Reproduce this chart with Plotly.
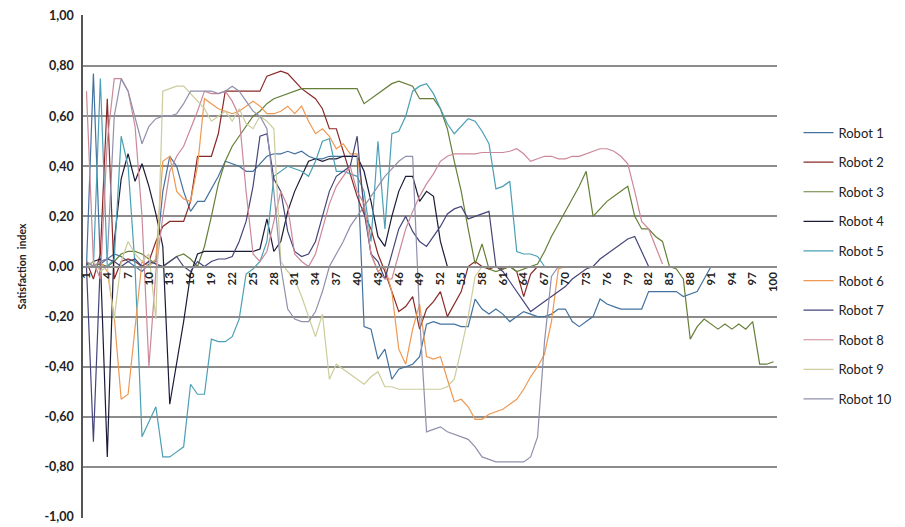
import plotly.graph_objects as go

N = None
x_index = list(range(1, 101))
x_tick_vals = list(range(1, 101, 3))
x_tick_text = [str(v) for v in x_tick_vals]
y_tick_vals = [1.0, 0.8, 0.6, 0.4, 0.2, 0.0, -0.2, -0.4, -0.6, -0.8, -1.0]
y_tick_text = ["1,00", "0,80", "0,60", "0,40", "0,20", "0,00", "-0,20", "-0,40", "-0,60", "-0,80", "-1,00"]

robot1 = [0.00, 0.77, 0.01, 0.03, 0.05, 0.04, 0.02, 0.00, -0.02, 0.01,
          0.02, 0.30, 0.44, 0.40, 0.30, 0.22, 0.26, 0.26, 0.31, 0.36,
          0.42, 0.41, 0.40, 0.38, 0.38, 0.41, 0.44, 0.45, 0.45, 0.46,
          0.45, 0.46, 0.44, 0.43, 0.43, 0.44, 0.44, 0.44, 0.44, 0.44,
          -0.24, -0.25, -0.37, -0.33, -0.45, -0.41, -0.40, -0.39, -0.36, -0.23,
          -0.22, -0.23, -0.23, -0.23, -0.24, -0.24, -0.13, -0.17, -0.19, -0.17,
          -0.19, -0.22, -0.20, -0.18, -0.19, -0.20, -0.20, -0.19, -0.17, -0.17,
          -0.22, -0.24, -0.22, -0.20, -0.13, -0.15, -0.16, -0.17, -0.17, -0.17,
          -0.17, -0.10, -0.10, -0.10, -0.10, -0.10, -0.12, -0.11, -0.10, -0.05,
          0.00, N, N, N, N, N, N, N, N, N]

robot2 = [0.02, -0.05, 0.05, 0.67, -0.05, 0.02, 0.03, 0.02, 0.00, 0.02,
          0.10, 0.16, 0.18, 0.18, 0.18, 0.26, 0.44, 0.44, 0.44, 0.53,
          0.70, 0.70, 0.70, 0.70, 0.70, 0.70, 0.76, 0.77, 0.78, 0.77,
          0.74, 0.71, 0.69, 0.67, 0.63, 0.55, 0.55, 0.46, 0.38, 0.28,
          0.21, 0.15, 0.05, -0.02, -0.10, -0.18, -0.16, -0.12, -0.25, -0.17,
          -0.14, -0.10, -0.20, -0.15, -0.10, 0.00, 0.02, 0.00, -0.01, 0.00,
          -0.01, 0.00, -0.02, -0.12, -0.03, 0.00, N, N, N, N,
          N, N, N, N, N, N, N, N, N, N,
          N, N, N, N, N, N, N, N, N, N,
          N, N, N, N, N, N, N, N, N, N]

robot3 = [0.00, 0.00, 0.01, 0.00, 0.02, 0.05, 0.06, 0.06, 0.05, 0.03,
          0.01, 0.00, 0.02, 0.04, 0.05, 0.03, 0.00, 0.08, 0.20, 0.33,
          0.42, 0.48, 0.52, 0.56, 0.60, 0.62, 0.65, 0.67, 0.68, 0.69,
          0.70, 0.71, 0.71, 0.71, 0.71, 0.71, 0.71, 0.71, 0.71, 0.71,
          0.65, 0.67, 0.69, 0.71, 0.73, 0.74, 0.73, 0.72, 0.67, 0.67,
          0.67, 0.63, 0.55, 0.42, 0.30, 0.15, 0.01, 0.09, -0.01, -0.02,
          -0.01, 0.00, -0.02, -0.01, 0.00, 0.01, 0.06, 0.12, 0.17, 0.22,
          0.27, 0.32, 0.38, 0.20, 0.23, 0.26, 0.28, 0.30, 0.32, 0.20,
          0.15, 0.15, 0.12, 0.10, 0.00, -0.01, -0.05, -0.29, -0.24, -0.21,
          -0.23, -0.25, -0.23, -0.25, -0.23, -0.25, -0.22, -0.39, -0.39, -0.38]

robot4 = [0.00, 0.02, 0.03, -0.76, 0.10, 0.35, 0.45, 0.34, 0.41, 0.32,
          0.21, 0.08, -0.55, -0.38, -0.22, -0.03, 0.05, 0.06, 0.06, 0.06,
          0.06, 0.06, 0.06, 0.06, 0.06, 0.07, 0.19, 0.06, 0.10, 0.22,
          0.30, 0.36, 0.42, 0.43, 0.42, 0.43, 0.43, 0.44, 0.44, 0.44,
          0.38, 0.26, 0.12, 0.08, 0.20, 0.30, 0.36, 0.36, 0.26, 0.30,
          0.28, 0.10, 0.00, 0.00, 0.00, 0.00, 0.00, 0.00, 0.00, 0.00,
          0.00, 0.00, 0.00, 0.00, N, N, N, N, N, N,
          N, N, N, N, N, N, N, N, N, N,
          N, N, N, N, N, N, N, N, N, N,
          N, N, N, N, N, N, N, N, N, N]

robot5 = [0.02, 0.00, 0.75, 0.00, 0.03, 0.52, 0.40, 0.00, -0.68, -0.62,
          -0.56, -0.76, -0.76, -0.74, -0.72, -0.47, -0.51, -0.51, -0.29, -0.30,
          -0.30, -0.28, -0.21, -0.03, -0.01, 0.02, 0.10, 0.36, 0.38, 0.40,
          0.39, 0.38, 0.36, 0.42, 0.50, 0.51, 0.38, 0.38, 0.37, 0.36,
          0.30, 0.10, 0.50, 0.15, 0.53, 0.54, 0.60, 0.70, 0.72, 0.73,
          0.69, 0.63, 0.57, 0.53, 0.56, 0.59, 0.58, 0.54, 0.49, 0.31,
          0.32, 0.34, 0.06, 0.05, 0.05, 0.04, 0.00, N, N, N,
          N, N, N, N, N, N, N, N, N, N,
          N, N, N, N, N, N, N, N, N, N,
          N, N, N, N, N, N, N, N, N, N]

robot6 = [0.02, 0.00, 0.02, -0.02, -0.20, -0.53, -0.51, -0.25, 0.02, 0.00,
          0.03, 0.42, 0.44, 0.30, 0.27, 0.26, 0.40, 0.67, 0.65, 0.63,
          0.62, 0.61, 0.62, 0.64, 0.66, 0.64, 0.61, 0.61, 0.62, 0.64,
          0.61, 0.64, 0.58, 0.53, 0.55, 0.52, 0.47, 0.49, 0.45, 0.45,
          0.24, 0.05, -0.02, 0.00, -0.10, -0.33, -0.39, -0.25, -0.15, -0.36,
          -0.37, -0.36, -0.45, -0.54, -0.53, -0.56, -0.61, -0.61, -0.59, -0.58,
          -0.57, -0.55, -0.53, -0.49, -0.44, -0.40, -0.35, -0.22, -0.01, 0.00,
          N, N, N, N, N, N, N, N, N, N,
          N, N, N, N, N, N, N, N, N, N,
          N, N, N, N, N, N, N, N, N, N]

robot7 = [0.00, -0.70, 0.02, 0.03, 0.02, 0.00, 0.02, 0.03, 0.00, 0.02,
          0.01, 0.00, 0.02, 0.04, 0.00, -0.02, 0.02, 0.00, 0.02, 0.03,
          0.03, 0.04, 0.10, 0.18, 0.32, 0.52, 0.53, 0.35, 0.30, 0.14,
          0.06, 0.04, 0.05, 0.10, 0.20, 0.30, 0.36, 0.38, 0.40, 0.52,
          0.22, 0.05, 0.02, -0.05, 0.05, 0.15, 0.20, 0.14, 0.10, 0.08,
          0.12, 0.16, 0.21, 0.23, 0.24, 0.19, 0.20, 0.21, 0.22, 0.00,
          -0.02, -0.06, -0.10, -0.14, -0.18, -0.16, -0.14, -0.12, -0.10, -0.08,
          -0.05, -0.03, -0.01, 0.00, 0.03, 0.05, 0.07, 0.09, 0.11, 0.12,
          0.06, 0.00, N, N, N, N, N, N, N, N,
          N, N, N, N, N, N, N, N, N, N]

robot8 = [0.70, 0.02, -0.05, 0.50, 0.75, 0.75, 0.70, 0.56, 0.20, -0.40,
          -0.02, 0.20, 0.38, 0.44, 0.48, 0.55, 0.62, 0.70, 0.69, 0.69,
          0.70, 0.66, 0.60, 0.30, 0.05, 0.02, 0.06, 0.18, 0.30, 0.24,
          0.05, 0.02, 0.00, 0.05, 0.15, 0.25, 0.32, 0.36, 0.40, 0.30,
          0.25, 0.05, -0.02, -0.05, -0.05, 0.05, 0.15, 0.22, 0.28, 0.33,
          0.37, 0.42, 0.44, 0.45, 0.45, 0.45, 0.45, 0.455, 0.455, 0.455,
          0.455, 0.46, 0.47, 0.45, 0.42, 0.43, 0.44, 0.44, 0.43, 0.43,
          0.44, 0.44, 0.45, 0.46, 0.47, 0.47, 0.46, 0.44, 0.41, 0.30,
          0.18, 0.15, 0.08, 0.01, N, N, N, N, N, N,
          N, N, N, N, N, N, N, N, N, N]

robot9 = [0.00, 0.02, -0.02, 0.00, -0.21, 0.02, 0.10, 0.05, 0.02, 0.05,
          -0.21, 0.70, 0.71, 0.72, 0.72, 0.69, 0.66, 0.63, 0.58, 0.60,
          0.62, 0.58, 0.63, 0.57, 0.55, 0.60, 0.58, 0.55, 0.02, -0.02,
          -0.05, -0.12, -0.20, -0.28, -0.19, -0.45, -0.39, -0.41, -0.43, -0.45,
          -0.47, -0.44, -0.42, -0.48, -0.48, -0.49, -0.49, -0.49, -0.49, -0.49,
          -0.49, -0.49, -0.48, -0.45, -0.33, -0.20, -0.04, 0.00, N, N,
          N, N, N, N, N, N, N, N, N, N,
          N, N, N, N, N, N, N, N, N, N,
          N, N, N, N, N, N, N, N, N, N,
          N, N, N, N, N, N, N, N, N, N]

robot10 = [0.02, 0.00, 0.02, 0.03, 0.60, 0.75, 0.70, 0.60, 0.49, 0.56,
           0.59, 0.60, 0.60, 0.61, 0.65, 0.70, 0.70, 0.70, 0.70, 0.69,
           0.70, 0.72, 0.70, 0.66, 0.62, 0.60, 0.55, 0.30, 0.00, -0.17,
           -0.21, -0.22, -0.22, -0.18, -0.10, 0.00, 0.05, 0.10, 0.16, 0.20,
           0.24, 0.28, 0.32, 0.36, 0.39, 0.42, 0.44, 0.44, -0.20, -0.66,
           -0.65, -0.64, -0.66, -0.67, -0.68, -0.69, -0.72, -0.76, -0.77, -0.78,
           -0.78, -0.78, -0.78, -0.78, -0.76, -0.68, -0.30, -0.04, 0.00, N,
           N, N, N, N, N, N, N, N, N, N,
           N, N, N, N, N, N, N, N, N, N,
           N, N, N, N, N, N, N, N, N, N]

series_names = ["Robot 1", "Robot 2", "Robot 3", "Robot 4", "Robot 5",
                "Robot 6", "Robot 7", "Robot 8", "Robot 9", "Robot 10"]
series_values = [robot1, robot2, robot3, robot4, robot5,
                 robot6, robot7, robot8, robot9, robot10]
series_colors = ["#44729F", "#8A2A28", "#667F38", "#1B1B38", "#4A9FB5",
                 "#EE9852", "#45457A", "#CC8898", "#CCCC9C", "#9090AC"]

fig = go.Figure()
for name, vals, col in zip(series_names, series_values, series_colors):
    fig.add_trace(go.Scatter(
        x=x_index, y=vals, name=name, mode="lines",
        line=dict(color=col, width=1.2),
        legendgroup=name,
    ))

grid_col = "#8C8C8C"
fig.update_layout(
    width=897, height=519,
    margin=dict(l=75, r=122, t=7, b=9),
    paper_bgcolor="white", plot_bgcolor="white",
    font=dict(family="Lato, Open Sans, sans-serif", color="#222222"),
    showlegend=True,
    legend=dict(
        x=1.031, xanchor="left", y=0.796, yanchor="top",
        font=dict(size=13, color="#222222"),
        tracegroupgap=9.7, bgcolor="rgba(0,0,0,0)",
    ),
    xaxis=dict(
        range=[0.5, 100.5], automargin=False,
        tickmode="array", tickvals=x_tick_vals, ticktext=x_tick_text,
        tickangle=-90, tickfont=dict(size=11.5, weight="bold", color="#222222"),
        anchor="free", position=0.5,
        showline=True, linecolor=grid_col, linewidth=2,
        showgrid=False, zeroline=False, ticks="",
    ),
    yaxis=dict(
        range=[-1.004, 1.004], automargin=False,
        tickmode="array", tickvals=y_tick_vals, ticktext=y_tick_text,
        tickfont=dict(size=12.5, weight="bold", color="#222222"),
        showgrid=True, gridcolor=grid_col, gridwidth=2,
        showline=True, linecolor="#555555", linewidth=1.5,
        zeroline=False, ticks="", ticklabelstandoff=5,
        title=dict(text="Satisfaction  index", font=dict(size=10.5, weight="bold"), standoff=16),
    ),
)

fig.write_html("out.html")
